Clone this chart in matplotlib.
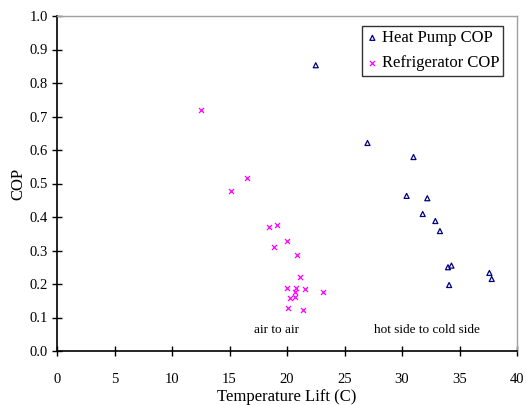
import matplotlib
matplotlib.use("Agg")
import matplotlib.pyplot as plt

plt.rcParams["font.family"] = ["Liberation Serif", "DejaVu Serif"]

# Heat pump COP vs temperature lift
hp_lift = [22.5, 27.0, 31.0, 30.4, 32.2, 31.8, 32.9, 33.3, 34.0, 34.3, 37.6, 37.8, 34.1]
hp_cop = [0.853, 0.621, 0.579, 0.463, 0.456, 0.409, 0.388, 0.358, 0.250, 0.255, 0.233, 0.215, 0.197]

# Refrigerator COP vs temperature lift
ref_lift = [12.5, 16.5, 15.1, 18.4, 19.1, 20.0, 18.9, 20.9, 21.1, 20.0, 20.8, 21.6,
            23.1, 20.7, 20.3, 20.7, 20.1, 21.4]
ref_cop = [0.720, 0.516, 0.478, 0.370, 0.376, 0.328, 0.310, 0.287, 0.220, 0.188, 0.188, 0.185,
           0.176, 0.175, 0.158, 0.161, 0.128, 0.122]

x_ticks = [0, 5, 10, 15, 20, 25, 30, 35, 40]
y_ticks = [0.0, 0.1, 0.2, 0.3, 0.4, 0.5, 0.6, 0.7, 0.8, 0.9, 1.0]

fig = plt.figure(figsize=(5.26, 4.05), dpi=100)
ax = fig.add_axes([57 / 526, 1 - 351 / 405, (517 - 57) / 526, (351 - 16) / 405])

ax.scatter(hp_lift, hp_cop, marker="^", s=13, facecolors="none",
           edgecolors="#000080", linewidths=0.9, label="Heat Pump COP")
ax.scatter(ref_lift, ref_cop, marker="x", s=13, color="#FF00FF",
           linewidths=0.9, label="Refrigerator COP")

ax.set_xlim(0, 40)
ax.set_ylim(0, 1.0)
ax.set_xticks(x_ticks)
ax.set_yticks(y_ticks)
ax.set_yticklabels([f"{v:.1f}" for v in y_ticks])
ax.tick_params(direction="inout", length=7, width=1, labelsize=10.5, pad=3)
ax.tick_params(axis="x", pad=12)

for side in ["top", "right"]:
    ax.spines[side].set_color("#a0a0a0")
    ax.spines[side].set_linewidth(1)
for side in ["left", "bottom"]:
    ax.spines[side].set_color("black")
    ax.spines[side].set_linewidth(1.2)

ax.set_xlabel("Temperature Lift (C)", fontsize=12, labelpad=2.5)
ax.set_ylabel("COP", fontsize=12, labelpad=2)

ax.text(19.1, 0.063, "air to air", fontsize=9.5, ha="center", va="center")
ax.text(32.2, 0.063, "hot side to cold side", fontsize=9.5, ha="center", va="center")

leg = ax.legend(loc="upper right", bbox_to_anchor=(0.97, 0.97), fontsize=12,
                frameon=True, fancybox=False, edgecolor="black",
                handletextpad=0.2, handlelength=0.7, borderpad=0.25,
                labelspacing=0.55, borderaxespad=0)
leg.get_frame().set_linewidth(1)

fig.savefig("out.png", dpi=100)
